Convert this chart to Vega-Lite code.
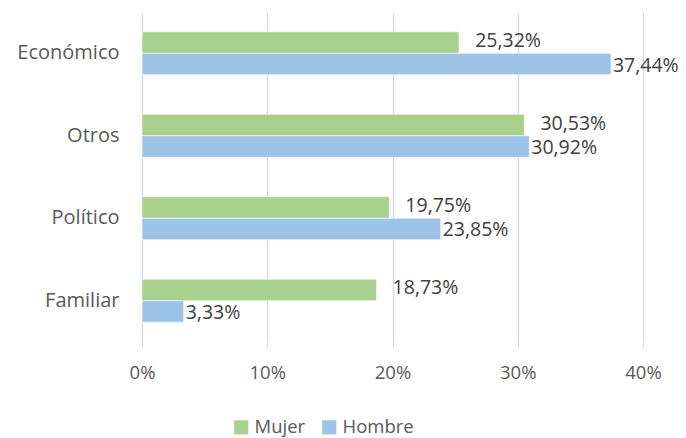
{
  "$schema": "https://vega.github.io/schema/vega-lite/v6.json",
  "width": 501,
  "height": 330,
  "autosize": {"type": "none"},
  "padding": {"left": 142, "top": 12, "right": 43, "bottom": 96},
  "background": "white",
  "config": {
    "locale": {"number": {"decimal": ",", "thousands": ".", "grouping": [3], "currency": ["", " €"]}},
    "view": {"stroke": null},
    "font": "Open Sans"
  },
  "data": {
    "values": [
      {"cat": "Económico", "sexo": "Mujer", "v": 0.2532},
      {"cat": "Económico", "sexo": "Hombre", "v": 0.3744},
      {"cat": "Otros", "sexo": "Mujer", "v": 0.3053},
      {"cat": "Otros", "sexo": "Hombre", "v": 0.3092},
      {"cat": "Político", "sexo": "Mujer", "v": 0.1975},
      {"cat": "Político", "sexo": "Hombre", "v": 0.2385},
      {"cat": "Familiar", "sexo": "Mujer", "v": 0.1873},
      {"cat": "Familiar", "sexo": "Hombre", "v": 0.0333}
    ]
  },
  "encoding": {
    "y": {
      "field": "cat", "type": "nominal",
      "sort": ["Económico", "Otros", "Político", "Familiar"],
      "scale": {"paddingInner": 0.479, "paddingOuter": 0.24},
      "axis": {"title": null, "domain": false, "ticks": false, "labelFontSize": 20, "labelColor": "#595959", "labelPadding": 23, "labelFont": "Open Sans"}
    },
    "yOffset": {"field": "sexo", "type": "nominal", "sort": ["Mujer", "Hombre"], "scale": {"paddingInner": 0, "paddingOuter": 0}},
    "x": {
      "field": "v", "type": "quantitative",
      "scale": {"domain": [0, 0.4]},
      "axis": {"title": null, "format": ".0%", "values": [0, 0.1, 0.2, 0.3, 0.4], "domain": false, "labelFlush": false, "labelOverlap": false, "tickColor": "#D9D9D9", "tickSize": 5, "gridColor": "#D9D9D9", "gridWidth": 1.3, "labelFontSize": 18.5, "labelColor": "#595959", "labelPadding": 16}
    }
  },
  "layer": [
    {
      "mark": {"type": "bar", "stroke": "white", "strokeWidth": 0.6},
      "encoding": {
        "color": {
          "field": "sexo", "type": "nominal",
          "sort": ["Mujer", "Hombre"],
          "scale": {"domain": ["Mujer", "Hombre"], "range": ["#A9D18E", "#9DC3E6"]},
          "legend": {
            "title": null, "orient": "none", "direction": "horizontal",
            "legendX": 90, "legendY": 406,
            "symbolType": "square", "symbolSize": 200, "symbolStrokeWidth": 0,
            "labelFontSize": 18.5, "labelColor": "#595959", "columnPadding": 14, "labelOffset": 4
          }
        }
      }
    },
    {
      "transform": [{"filter": "datum.sexo == 'Mujer'"}],
      "mark": {"type": "text", "align": "left", "baseline": "middle", "dx": 16, "dy": -1.5, "fontSize": 19.5, "color": "#404040"},
      "encoding": {"text": {"field": "v", "type": "quantitative", "format": ".2%"}}
    },
    {
      "transform": [{"filter": "datum.sexo == 'Hombre'"}],
      "mark": {"type": "text", "align": "left", "baseline": "middle", "dx": 2, "dy": 1.5, "fontSize": 19.5, "color": "#404040"},
      "encoding": {"text": {"field": "v", "type": "quantitative", "format": ".2%"}}
    }
  ]
}
